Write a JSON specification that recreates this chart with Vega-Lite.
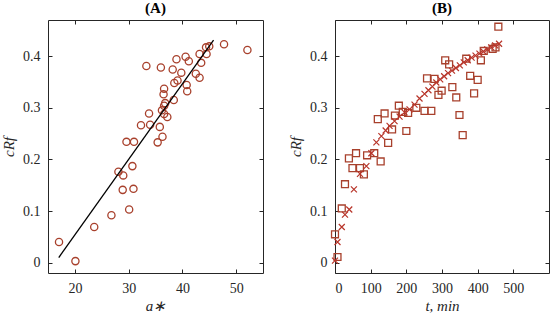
{
  "$schema": "https://vega.github.io/schema/vega-lite/v6.json",
  "background": "white",
  "padding": {"left": 1, "top": 0, "right": 4, "bottom": 2},
  "config": {
    "font": "Liberation Serif",
    "view": {"stroke": "#262626", "strokeWidth": 1},
    "axis": {"grid": false, "domain": false, "tickSize": 4, "offset": -4, "zindex": 1, "tickColor": "#262626", "labelFont": "Liberation Serif", "titleFont": "Liberation Serif", "labelColor": "#262626", "labelFontSize": 14, "labelPadding": 8, "titleFontSize": 15, "titleFontWeight": "normal", "titleColor": "#262626", "titleFontStyle": "italic"},
    "title": {"font": "Liberation Serif", "fontSize": 15, "fontWeight": "bold", "color": "#000000", "offset": 4}
  },
  "datasets": {
    "a": [
      {"a": 17.05, "c": 0.040}, {"a": 20.1, "c": 0.003}, {"a": 23.6, "c": 0.069}, {"a": 26.8, "c": 0.092},
      {"a": 30.1, "c": 0.103}, {"a": 28.9, "c": 0.141}, {"a": 30.9, "c": 0.143}, {"a": 28.1, "c": 0.176},
      {"a": 29.0, "c": 0.169}, {"a": 30.7, "c": 0.187}, {"a": 29.6, "c": 0.234}, {"a": 31.0, "c": 0.234},
      {"a": 32.3, "c": 0.266}, {"a": 34.0, "c": 0.267}, {"a": 35.8, "c": 0.263}, {"a": 36.3, "c": 0.244},
      {"a": 35.4, "c": 0.233}, {"a": 33.8, "c": 0.289}, {"a": 36.2, "c": 0.295}, {"a": 36.6, "c": 0.288},
      {"a": 37.2, "c": 0.282}, {"a": 36.6, "c": 0.304}, {"a": 36.8, "c": 0.309}, {"a": 38.4, "c": 0.315},
      {"a": 36.5, "c": 0.326}, {"a": 36.6, "c": 0.337}, {"a": 38.5, "c": 0.348}, {"a": 39.1, "c": 0.353},
      {"a": 40.8, "c": 0.344}, {"a": 40.9, "c": 0.332}, {"a": 33.3, "c": 0.381}, {"a": 36.0, "c": 0.378},
      {"a": 38.2, "c": 0.374}, {"a": 39.8, "c": 0.368}, {"a": 38.9, "c": 0.394}, {"a": 40.6, "c": 0.399},
      {"a": 41.2, "c": 0.390}, {"a": 42.5, "c": 0.366}, {"a": 43.2, "c": 0.358}, {"a": 43.5, "c": 0.387},
      {"a": 43.2, "c": 0.404}, {"a": 44.5, "c": 0.404}, {"a": 44.4, "c": 0.417}, {"a": 45.0, "c": 0.419},
      {"a": 47.75, "c": 0.423}, {"a": 52.1, "c": 0.412}
    ],
    "fit": [{"a": 17.0, "c": 0.010}, {"a": 45.8, "c": 0.431}],
    "sq": [
      {"t": 0, "c": 0.055}, {"t": 7, "c": 0.011}, {"t": 19, "c": 0.105}, {"t": 28, "c": 0.152},
      {"t": 39, "c": 0.202}, {"t": 49, "c": 0.183}, {"t": 59, "c": 0.212}, {"t": 70, "c": 0.183},
      {"t": 81, "c": 0.171}, {"t": 90, "c": 0.208}, {"t": 110, "c": 0.212}, {"t": 120, "c": 0.278},
      {"t": 128, "c": 0.196}, {"t": 139, "c": 0.289}, {"t": 149, "c": 0.232}, {"t": 160, "c": 0.258},
      {"t": 168, "c": 0.285}, {"t": 179, "c": 0.304}, {"t": 190, "c": 0.292}, {"t": 200, "c": 0.255},
      {"t": 205, "c": 0.290}, {"t": 228, "c": 0.300}, {"t": 251, "c": 0.294}, {"t": 258, "c": 0.357},
      {"t": 270, "c": 0.294}, {"t": 279, "c": 0.356}, {"t": 290, "c": 0.325}, {"t": 299, "c": 0.333},
      {"t": 309, "c": 0.392}, {"t": 320, "c": 0.384}, {"t": 329, "c": 0.340}, {"t": 340, "c": 0.320},
      {"t": 349, "c": 0.286}, {"t": 358, "c": 0.247}, {"t": 368, "c": 0.395}, {"t": 379, "c": 0.362},
      {"t": 390, "c": 0.328}, {"t": 400, "c": 0.354}, {"t": 409, "c": 0.392}, {"t": 417, "c": 0.410},
      {"t": 442, "c": 0.414}, {"t": 450, "c": 0.417}, {"t": 458, "c": 0.457}
    ],
    "x": [
      {"t": 0, "c": 0.004}, {"t": 7, "c": 0.040}, {"t": 19, "c": 0.069}, {"t": 28, "c": 0.093},
      {"t": 40, "c": 0.103}, {"t": 53, "c": 0.142}, {"t": 70, "c": 0.172}, {"t": 88, "c": 0.187},
      {"t": 102, "c": 0.212}, {"t": 116, "c": 0.233}, {"t": 130, "c": 0.245}, {"t": 142, "c": 0.256},
      {"t": 153, "c": 0.265}, {"t": 167, "c": 0.274}, {"t": 181, "c": 0.283}, {"t": 195, "c": 0.291},
      {"t": 209, "c": 0.297}, {"t": 223, "c": 0.306}, {"t": 237, "c": 0.318}, {"t": 251, "c": 0.327},
      {"t": 262, "c": 0.334}, {"t": 273, "c": 0.341}, {"t": 284, "c": 0.349}, {"t": 295, "c": 0.355},
      {"t": 306, "c": 0.361}, {"t": 317, "c": 0.367}, {"t": 328, "c": 0.372}, {"t": 339, "c": 0.377},
      {"t": 350, "c": 0.382}, {"t": 361, "c": 0.388}, {"t": 372, "c": 0.392}, {"t": 383, "c": 0.397},
      {"t": 394, "c": 0.401}, {"t": 405, "c": 0.405}, {"t": 416, "c": 0.409}, {"t": 427, "c": 0.413},
      {"t": 438, "c": 0.417}, {"t": 449, "c": 0.421}, {"t": 460, "c": 0.424}
    ]
  },
  "spacing": 24,
  "hconcat": [
    {
      "width": 215,
      "height": 253,
      "title": {"text": "(A)"},
      "resolve": {"axis": {"x": "independent", "y": "independent"}},
      "layer": [
        {
          "data": {"name": "a"},
          "mark": {"type": "point", "shape": "circle", "filled": false, "size": 52, "strokeWidth": 1.3, "color": "#a8402c", "opacity": 1},
          "encoding": {
            "x": {"field": "a", "type": "quantitative", "scale": {"domain": [15, 55], "nice": false, "zero": false}, "axis": {"title": "a∗", "values": [20, 30, 40, 50], "titlePadding": 3}},
            "y": {"field": "c", "type": "quantitative", "scale": {"domain": [-0.02, 0.47], "nice": false, "zero": false}, "axis": {"title": "cRf", "values": [0, 0.1, 0.2, 0.3, 0.4], "format": ".1~f", "titlePadding": 6}}
          }
        },
        {
          "data": {"name": "fit"},
          "mark": {"type": "line", "color": "#000000", "strokeWidth": 1.3},
          "encoding": {
            "x": {"field": "a", "type": "quantitative", "axis": {"orient": "top", "labels": false, "title": null, "values": [20, 30, 40, 50]}},
            "y": {"field": "c", "type": "quantitative", "axis": {"orient": "right", "labels": false, "title": null, "values": [0, 0.1, 0.2, 0.3, 0.4]}}
          }
        }
      ]
    },
    {
      "width": 214,
      "height": 253,
      "title": {"text": "(B)"},
      "resolve": {"axis": {"x": "independent", "y": "independent"}},
      "layer": [
        {
          "data": {"name": "sq"},
          "mark": {"type": "point", "shape": "square", "filled": false, "size": 48, "strokeWidth": 1.3, "color": "#a8402c", "opacity": 1},
          "encoding": {
            "x": {"field": "t", "type": "quantitative", "scale": {"domain": [0, 600], "nice": false, "zero": false}, "axis": {"title": "t,  min", "values": [0, 100, 200, 300, 400, 500], "titlePadding": 3}},
            "y": {"field": "c", "type": "quantitative", "scale": {"domain": [-0.02, 0.47], "nice": false, "zero": false}, "axis": {"title": "cRf", "values": [0, 0.1, 0.2, 0.3, 0.4], "format": ".1~f", "titlePadding": 6}}
          }
        },
        {
          "data": {"name": "x"},
          "mark": {"type": "point", "shape": "M-1,-1L1,1M-1,1L1,-1", "filled": false, "size": 36, "strokeWidth": 1.2, "color": "#b8352a", "opacity": 1},
          "encoding": {
            "x": {"field": "t", "type": "quantitative", "axis": {"orient": "top", "labels": false, "title": null, "values": [0, 100, 200, 300, 400, 500]}},
            "y": {"field": "c", "type": "quantitative", "axis": {"orient": "right", "labels": false, "title": null, "values": [0, 0.1, 0.2, 0.3, 0.4]}}
          }
        }
      ]
    }
  ]
}
